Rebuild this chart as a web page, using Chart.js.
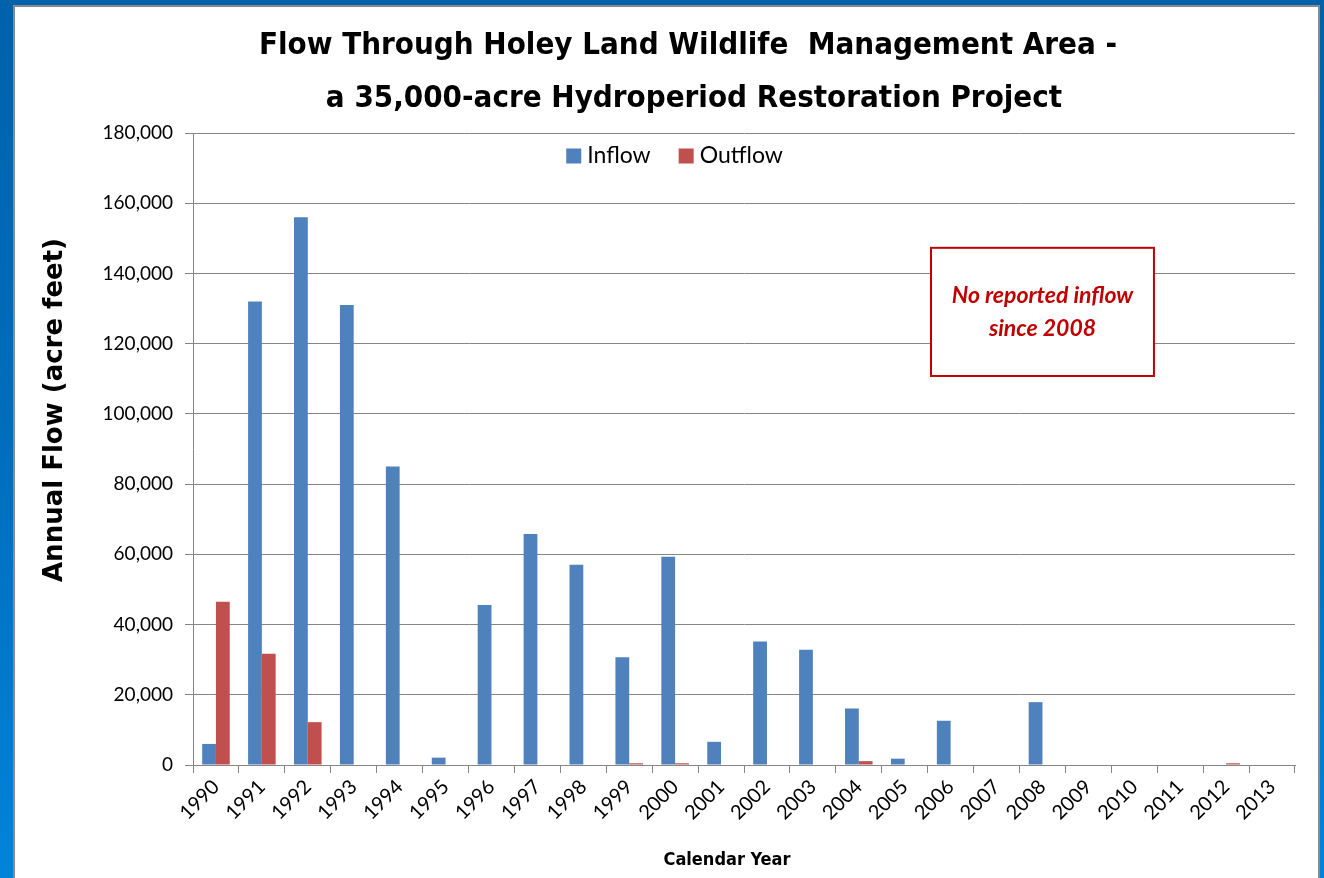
<!DOCTYPE html>
<html>
<head>
<meta charset="utf-8">
<title>Flow Through Holey Land WMA</title>
<script src="https://cdn.jsdelivr.net/npm/chart.js@4.4.1/dist/chart.umd.min.js"></script>
<style>
  html, body { margin:0; padding:0; }
  body { width:1324px; height:878px; overflow:hidden; position:relative;
         background:linear-gradient(to bottom, #0062aa 0%, #006fbf 55%, #0084da 100%); }
  #panel { position:absolute; left:13px; top:5px; width:1303px; height:900px;
           background:#fff; border-left:2px solid #8a8a8a; border-top:2px solid #8a8a8a; border-right:2px solid #8a8a8a; }
  #wrap { position:absolute; left:0; top:0; width:1324px; height:878px; }
</style>
</head>
<body>
<div id="panel"></div>
<div id="wrap"><canvas id="flowChart"></canvas></div>
<script>
// ═══════════════════════════════════════════════════════
//  Holey Land WMA — annual inflow / outflow (acre feet)
// ═══════════════════════════════════════════════════════

const YEARS   = ["1990","1991","1992","1993","1994","1995","1996","1997","1998","1999","2000","2001",
                 "2002","2003","2004","2005","2006","2007","2008","2009","2010","2011","2012","2013"];
const INFLOW  = [6000,132000,156000,131000,85000,2100,45600,65800,57000,30700,59300,6600,
                 35200,32800,16100,1800,12600,0,17900,0,0,0,0,0];
const OUTFLOW = [46500,31700,12200,0,0,0,0,0,0,500,500,0,
                 0,0,1100,0,0,0,0,0,0,0,500,0];
const Y_TICKS = [0,20000,40000,60000,80000,100000,120000,140000,160000,180000];

const TITLE_LINES = ["Flow Through Holey Land Wildlife  Management Area -",
                     "a 35,000-acre Hydroperiod Restoration Project"];
const Y_TITLE     = "Annual Flow (acre feet)";
const X_TITLE     = "Calendar Year";
const NOTE_LINES  = ["No reported inflow", "since 2008"];

const BODY_FONT   = "Lato, 'Open Sans', sans-serif";
const COND_FONT   = "'DejaVu Sans Condensed', 'Liberation Sans Narrow', sans-serif";
const AXIS_GREY   = "#868686";

// ── Titles + legend drawn on the canvas ──────────────────
const decorations = {
  id: "decorations",
  afterDraw(chart) {
    const { ctx, chartArea: a } = chart;
    ctx.save();
    ctx.fillStyle = "#000";
    ctx.textBaseline = "alphabetic";

    // main title, two lines
    ctx.font = "bold 31px " + COND_FONT;
    ctx.textAlign = "center";
    ctx.fillText(TITLE_LINES[0], 688, 54);
    ctx.fillText(TITLE_LINES[1], 694, 107);

    // x axis title
    ctx.font = "bold 18px " + COND_FONT;
    ctx.textBaseline = "middle";
    ctx.fillText(X_TITLE, 727, 860);

    // y axis title
    ctx.translate(55, 410);
    ctx.rotate(-Math.PI / 2);
    ctx.font = "bold 26px 'DejaVu Sans', sans-serif";
    ctx.fillText(Y_TITLE, 0, 0);
    ctx.restore();

    // legend
    ctx.save();
    ctx.font = "23px " + BODY_FONT;
    ctx.textAlign = "left";
    ctx.textBaseline = "middle";
    const box = 15, gap = 6, itemGap = 28;
    const items = chart.data.datasets.map(d => ({ label:d.label, color:d.backgroundColor,
                                                  w:ctx.measureText(d.label).width }));
    const total = items.reduce((s,it) => s + box + gap + it.w, 0) + itemGap * (items.length - 1);
    let x = a.left + (a.right - a.left) * 0.437 - total / 2;
    const cy = a.top + 23;
    items.forEach(it => {
      ctx.fillStyle = it.color;
      ctx.fillRect(x, cy - box / 2, box, box);
      ctx.fillStyle = "#000";
      ctx.fillText(it.label, x + box + gap, cy);
      x += box + gap + it.w + itemGap;
    });
    ctx.restore();
  }
};

// ── Note box ("No reported inflow since 2008") ───────────
const noteBox = {
  id: "noteBox",
  afterDatasetsDraw(chart) {
    const { ctx, chartArea: a, scales: { y } } = chart;
    const x1 = a.left + (a.right - a.left) * 0.6697;
    const x2 = a.left + (a.right - a.left) * 0.8720;
    const y1 = y.getPixelForValue(147300);
    const y2 = y.getPixelForValue(110800);
    ctx.save();
    ctx.fillStyle = "#fff";
    ctx.fillRect(x1, y1, x2 - x1, y2 - y1);
    ctx.strokeStyle = "#c00000";
    ctx.lineWidth = 2;
    ctx.strokeRect(x1, y1, x2 - x1, y2 - y1);
    ctx.fillStyle = "#c00000";
    ctx.font = "italic 700 23px " + BODY_FONT;
    ctx.textAlign = "center";
    ctx.textBaseline = "middle";
    const cx = (x1 + x2) / 2, cy = (y1 + y2) / 2;
    ctx.fillText(NOTE_LINES[0], cx, cy - 16);
    ctx.fillText(NOTE_LINES[1], cx, cy + 17);
    ctx.restore();
  }
};

// ── Build chart ──────────────────────────────────────────
new Chart(document.getElementById("flowChart").getContext("2d"), {
  type: "bar",
  data: {
    labels: YEARS,
    datasets: [
      { label:"Inflow",  data:INFLOW,  backgroundColor:"#4f81bd", borderWidth:0 },
      { label:"Outflow", data:OUTFLOW, backgroundColor:"#c0504d", borderWidth:0 }
    ]
  },
  plugins: [noteBox, decorations],
  options: {
    responsive:true, maintainAspectRatio:false, animation:false,
    layout:{ padding:{ left:15, top:133, right:29, bottom:0 } },
    datasets:{ bar:{ categoryPercentage:0.6, barPercentage:1.0 } },
    plugins:{
      title:{ display:false },
      legend:{ display:false },
      tooltip:{ enabled:false }
    },
    scales:{
      x:{
        grid:{ drawOnChartArea:false, offset:true, color:AXIS_GREY, tickLength:8 },
        border:{ color:AXIS_GREY },
        ticks:{ color:"#000", autoSkip:false, maxRotation:45, minRotation:45, padding:2,
                font:{ family:BODY_FONT, size:20 } },
        afterFit: s => { s.height = 113; }
      },
      y:{
        min:0, max:180000,
        afterBuildTicks: s => { s.ticks = Y_TICKS.map(v => ({ value:v })); },
        grid:{ color:AXIS_GREY, tickLength:8 },
        border:{ color:AXIS_GREY },
        ticks:{ color:"#000", padding:12, font:{ family:BODY_FONT, size:19 },
                callback: v => Number(v).toLocaleString("en-US") },
        afterFit: s => { s.width = 178; }
      }
    }
  }
});
</script>
</body>
</html>
